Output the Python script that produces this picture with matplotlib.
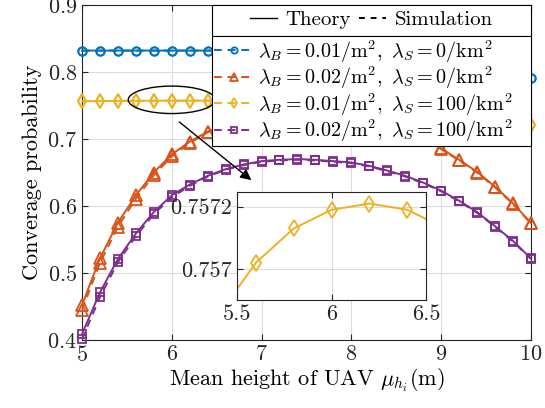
import matplotlib
matplotlib.use("Agg")
import matplotlib.pyplot as plt
from matplotlib.lines import Line2D
from matplotlib.patches import Ellipse, Rectangle

plt.rcParams["font.family"] = "serif"
plt.rcParams["font.serif"] = ["cmr10"]
plt.rcParams["mathtext.fontset"] = "cm"
plt.rcParams["axes.formatter.use_mathtext"] = True

# mean UAV height (m)
heights = [5.0, 5.2, 5.4, 5.6, 5.8, 6.0, 6.2, 6.4, 6.6, 6.8, 7.0, 7.2, 7.4,
           7.6, 7.8, 8.0, 8.2, 8.4, 8.6, 8.8, 9.0, 9.2, 9.4, 9.6, 9.8, 10.0]

blue_theory = [0.832, 0.832, 0.832, 0.832, 0.832, 0.832, 0.832, 0.832, 0.832,
               0.832, 0.832, 0.832, 0.832, 0.832, 0.8318, 0.8312, 0.830, 0.8285,
               0.826, 0.823, 0.819, 0.814, 0.809, 0.803, 0.797, 0.791]
blue_sim = blue_theory

orange_theory = [0.452, 0.522, 0.575, 0.616, 0.650, 0.677, 0.696, 0.711, 0.722,
                 0.731, 0.737, 0.741, 0.743, 0.743, 0.741, 0.737, 0.731, 0.723,
                 0.713, 0.700, 0.686, 0.669, 0.651, 0.629, 0.604, 0.575]
orange_sim = [0.445, 0.515, 0.569, 0.611, 0.646, 0.674, 0.694, 0.710, 0.721,
              0.730, 0.736, 0.740, 0.742, 0.742, 0.740, 0.736, 0.730, 0.722,
              0.712, 0.699, 0.685, 0.668, 0.650, 0.628, 0.603, 0.574]

yellow_theory = [0.75650, 0.75668, 0.75685, 0.75702, 0.75713, 0.75719, 0.75721,
                 0.75719, 0.75713, 0.75700, 0.75675, 0.7564, 0.7558, 0.7549,
                 0.7537, 0.7521, 0.7502, 0.7480, 0.7456, 0.7430, 0.7402, 0.7372,
                 0.7340, 0.7307, 0.7260, 0.7212]
yellow_sim = yellow_theory

purple_theory = [0.409, 0.471, 0.521, 0.559, 0.591, 0.616, 0.632, 0.645, 0.655,
                 0.662, 0.667, 0.669, 0.670, 0.669, 0.667, 0.665, 0.660, 0.653,
                 0.645, 0.635, 0.623, 0.608, 0.591, 0.570, 0.548, 0.522]
purple_sim = [0.401, 0.464, 0.516, 0.555, 0.588, 0.613, 0.630, 0.644, 0.654,
              0.661, 0.666, 0.668, 0.669, 0.668, 0.666, 0.664, 0.659, 0.652,
              0.644, 0.634, 0.622, 0.607, 0.590, 0.569, 0.547, 0.521]

labels = [
    r"$\lambda_B=0.01/\mathrm{m}^2,\ \lambda_S=0/\mathrm{km}^2$",
    r"$\lambda_B=0.02/\mathrm{m}^2,\ \lambda_S=0/\mathrm{km}^2$",
    r"$\lambda_B=0.01/\mathrm{m}^2,\ \lambda_S=100/\mathrm{km}^2$",
    r"$\lambda_B=0.02/\mathrm{m}^2,\ \lambda_S=100/\mathrm{km}^2$",
]
colors = ["#0072BD", "#D95319", "#EDB120", "#7E2F8E"]
markers = ["o", "^", "d", "s"]
msizes = [6, 8, 7, 6]
series = [(blue_theory, blue_sim), (orange_theory, orange_sim),
          (yellow_theory, yellow_sim), (purple_theory, purple_sim)]

fig = plt.figure(figsize=(5.45, 4.08), dpi=100)
ax = fig.add_axes([0.1505, 0.1667, 0.8235, 0.821])

handles = []
for (th, sim), c, m, ms in zip(series, colors, markers, msizes):
    ax.plot(heights, th, "-", color=c, marker=m, ms=ms, mfc="none", mew=1.3,
            lw=1.4, clip_on=False, zorder=3)
    h, = ax.plot(heights, sim, "--", color=c, marker=m, ms=ms, mfc="none",
                 mew=1.3, lw=1.4, clip_on=False, zorder=3, dashes=(4, 3))
    handles.append(h)

ax.set_xlim(5, 10)
ax.set_ylim(0.4, 0.9)
ax.set_xticks([5, 6, 7, 8, 9, 10])
ax.set_yticks([0.4, 0.5, 0.6, 0.7, 0.8, 0.9])
ax.grid(True, color="#dcdcdc", lw=0.8)
ax.set_axisbelow(True)
ax.tick_params(direction="in", top=True, right=True, labelsize=16,
               colors="#262626", length=4)
for s in ax.spines.values():
    s.set_color("#262626")
    s.set_linewidth(0.8)
ax.set_xlabel(r"Mean height of UAV $\mu_{h_i}$(m)", fontsize=16, labelpad=1)
ax.set_ylabel("Converage probability", fontsize=16, labelpad=4)

# zoom marker
ax.add_patch(Ellipse((6.0, 0.7585), 0.97, 0.041, fill=False, ec="black",
                     lw=1.0, zorder=4))
ax.annotate("", xy=(6.91, 0.636), xytext=(6.06, 0.728),
            arrowprops=dict(arrowstyle="-|>", color="black", lw=1.0,
                            mutation_scale=16), zorder=4)

# legends: header row + series
lx, lw_ = 0.2895, 0.7105
ax.add_patch(Rectangle((lx, 0.9075), lw_, 0.0925, transform=ax.transAxes,
                       fc="white", ec="black", lw=0.8, zorder=6, clip_on=False))
hdr = [Line2D([], [], color="black", lw=1.0),
       Line2D([], [], color="black", lw=1.4, ls="--", dashes=(3, 3))]
leg1 = ax.legend(hdr, ["Theory", "Simulation"], ncol=2, loc="center",
                 bbox_to_anchor=(lx + lw_ / 2, 0.955), frameon=False,
                 fontsize=15, handlelength=1.3, handletextpad=0.4,
                 columnspacing=0.4, borderpad=0.1)
leg1.set_zorder(7)
ax.add_artist(leg1)

leg2 = ax.legend(handles, labels, loc="upper left", mode="expand",
                 bbox_to_anchor=(lx, 0.597, lw_, 0.3105), fontsize=14.5,
                 handlelength=2.0, handletextpad=0.2, borderpad=0.1,
                 labelspacing=0.0, borderaxespad=0, fancybox=False,
                 framealpha=1, edgecolor="black", markerscale=0.75)
leg2.get_frame().set_linewidth(0.8)
leg2.set_zorder(7)

# inset
ins = fig.add_axes([0.435, 0.265, 0.347, 0.265])
ins.plot(heights, yellow_theory, "-", color=colors[2], marker="d", ms=8,
         mfc="none", mew=1.3, lw=1.4)
ins.set_xlim(5.5, 6.5)
ins.set_ylim(0.7569, 0.757248)
ins.set_xticks([5.5, 6, 6.5])
ins.set_xticklabels(["5.5", "6", "6.5"])
ins.set_yticks([0.757, 0.7572])
ins.set_yticklabels(["0.757", "0.7572"])
ins.grid(True, color="#dcdcdc", lw=0.8)
ins.set_axisbelow(True)
ins.tick_params(direction="in", top=True, right=True, labelsize=16,
                colors="#262626", length=4)
for s in ins.spines.values():
    s.set_color("#262626")
    s.set_linewidth(0.8)

fig.savefig("out.png", dpi=100)
